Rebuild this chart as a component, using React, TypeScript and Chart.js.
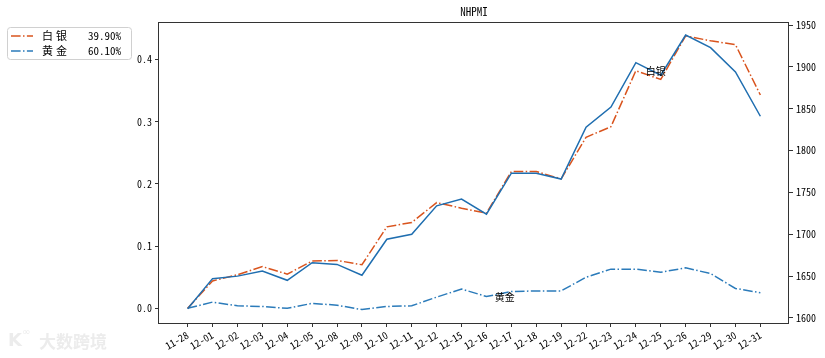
import React, { useEffect, useRef } from "react";
import { Chart, registerables } from "chart.js";

Chart.register(...registerables);

const labels = ["11-28","12-01","12-02","12-03","12-04","12-05","12-08","12-09","12-10","12-11","12-12","12-15","12-16","12-17","12-18","12-19","12-22","12-23","12-24","12-25","12-26","12-29","12-30","12-31"];
const silver = [0, 0.044, 0.054, 0.067, 0.055, 0.076, 0.077, 0.070, 0.131, 0.138, 0.170, 0.161, 0.153, 0.220, 0.220, 0.208, 0.275, 0.292, 0.382, 0.368, 0.438, 0.430, 0.424, 0.343];
const gold = [0, 0.010, 0.004, 0.003, 0.000, 0.008, 0.005, -0.002, 0.003, 0.004, 0.018, 0.031, 0.019, 0.027, 0.028, 0.028, 0.050, 0.063, 0.063, 0.058, 0.065, 0.056, 0.032, 0.025];
const nhpmi = [1611, 1647, 1650, 1656, 1645, 1666, 1664, 1651, 1694, 1700, 1734, 1742, 1724, 1773, 1773, 1766, 1828, 1852, 1905, 1890, 1938, 1923, 1894, 1841];

const leftTicks = [0, 0.1, 0.2, 0.3, 0.4];
const rightTicks = [1600, 1650, 1700, 1750, 1800, 1850, 1900, 1950];
const legendNames = ["白银", "黄金"];
const legendShares = ["39.90%", "60.10%"];
const annoTexts = ["白银", "黄金"];
const annoX = [18.8, 12.73];
const annoY = [0.381, 0.018];
const title = "NHPMI";

const ORANGE = "#d9541e";
const BLUE_SOLID = "#1f6eb0";
const BLUE_DASH = "#2b7bba";
const DASH = [9.6, 2.4, 1.5, 2.4];
const TICK_FONT = { family: "'Noto Sans Mono CJK SC', 'DejaVu Sans Mono', monospace", size: 10 };

const overlay = {
  id: "overlay",
  afterDatasetsDraw(chart: any) {
    const ctx = chart.ctx;
    const x = chart.scales.x;
    const y = chart.scales.y;
    ctx.save();
    ctx.fillStyle = "#000";
    ctx.font = "10px 'Noto Sans CJK SC'";
    ctx.textAlign = "center";
    ctx.textBaseline = "middle";
    annoTexts.forEach((t, i) => {
      ctx.fillText(t, x.getPixelForValue(annoX[i]), y.getPixelForValue(annoY[i]));
    });
    ctx.restore();
  },
  afterDraw(chart: any) {
    const ctx = chart.ctx;
    const a = chart.chartArea;
    ctx.save();
    // frame
    ctx.strokeStyle = "#333";
    ctx.lineWidth = 1;
    ctx.strokeRect(Math.round(a.left) - 0.5, Math.round(a.top) + 0.5, Math.round(a.right - a.left), Math.round(a.bottom - a.top));
    // title
    ctx.fillStyle = "#000";
    ctx.font = "11px 'Noto Sans Mono CJK SC', 'DejaVu Sans Mono'";
    ctx.textAlign = "center";
    ctx.textBaseline = "middle";
    ctx.fillText(title, (a.left + a.right) / 2, 12);
    // legend
    ctx.fillStyle = "#fff";
    ctx.strokeStyle = "#d0d0d0";
    ctx.beginPath();
    (ctx as any).roundRect(7.5, 27.5, 124, 32, 3);
    ctx.fill();
    ctx.stroke();
    const colors = [ORANGE, BLUE_DASH];
    legendNames.forEach((n, i) => {
      const ly = 36 + i * 15;
      ctx.strokeStyle = colors[i];
      ctx.lineWidth = 1.5;
      ctx.setLineDash(DASH);
      ctx.beginPath();
      ctx.moveTo(11, ly);
      ctx.lineTo(33, ly);
      ctx.stroke();
      ctx.setLineDash([]);
      ctx.fillStyle = "#000";
      ctx.font = "11px 'Noto Sans CJK SC'";
      ctx.textAlign = "left";
      (ctx as any).letterSpacing = "3px";
      ctx.fillText(n, 42, ly);
      (ctx as any).letterSpacing = "0px";
      ctx.font = "11px 'Noto Sans Mono CJK SC', 'DejaVu Sans Mono'";
      ctx.textAlign = "right";
      ctx.fillText(legendShares[i], 121, ly);
    });
    // watermark
    ctx.fillStyle = "#ececec";
    ctx.font = "bold 17px 'Noto Sans CJK SC'";
    ctx.textAlign = "left";
    ctx.fillText("大数跨境", 39, 342);
    ctx.font = "bold 18px 'DejaVu Sans'";
    ctx.fillText("K", 8, 341);
    ctx.font = "10px 'DejaVu Sans'";
    ctx.fillText("∞", 22, 332);
    ctx.restore();
  },
};

export default function App() {
  const ref = useRef<HTMLCanvasElement>(null);
  useEffect(() => {
    document.body.style.margin = "0";
    const chart = new Chart(ref.current as HTMLCanvasElement, {
      type: "line",
      data: {
        datasets: [
          {
            label: "NHPMI",
            data: nhpmi.map((v, i) => ({ x: i, y: v })),
            yAxisID: "y2",
            borderColor: BLUE_SOLID,
            borderWidth: 1.5,
            pointRadius: 0,
            tension: 0,
            fill: false,
          },
          {
            label: legendNames[0],
            data: silver.map((v, i) => ({ x: i, y: v })),
            yAxisID: "y",
            borderColor: ORANGE,
            borderWidth: 1.5,
            borderDash: DASH,
            pointRadius: 0,
            tension: 0,
            fill: false,
          },
          {
            label: legendNames[1],
            data: gold.map((v, i) => ({ x: i, y: v })),
            yAxisID: "y",
            borderColor: BLUE_DASH,
            borderWidth: 1.5,
            borderDash: DASH,
            pointRadius: 0,
            tension: 0,
            fill: false,
          },
        ],
      },
      options: {
        responsive: false,
        animation: false,
        layout: { padding: { top: 22, left: 0, right: 0, bottom: 0 } },
        plugins: { legend: { display: false }, tooltip: { enabled: false }, title: { display: false } },
        scales: {
          x: {
            type: "linear",
            min: -1.15,
            max: 24.15,
            afterBuildTicks: (s: any) => { s.ticks = labels.map((_, i) => ({ value: i })); },
            afterFit: (s: any) => { s.height = 35; },
            ticks: {
              autoSkip: false,
              minRotation: 30,
              maxRotation: 30,
              padding: 2,
              color: "#000",
              font: TICK_FONT,
              callback: (v: any) => labels[v] ?? "",
            },
            grid: { display: true, drawOnChartArea: false, drawTicks: true, tickLength: 4, color: "#333" },
            border: { display: false },
          },
          y: {
            type: "linear",
            position: "left",
            min: -0.0236,
            max: 0.4603,
            afterBuildTicks: (s: any) => { s.ticks = leftTicks.map((v) => ({ value: v })); },
            afterFit: (s: any) => { s.width = 159; },
            ticks: { padding: 3, color: "#000", font: TICK_FONT, callback: (v: any) => Number(v).toFixed(1) },
            grid: { display: true, drawOnChartArea: false, drawTicks: true, tickLength: 4, color: "#333" },
            border: { display: false },
          },
          y2: {
            type: "linear",
            position: "right",
            min: 1594,
            max: 1953.6,
            afterBuildTicks: (s: any) => { s.ticks = rightTicks.map((v) => ({ value: v })); },
            afterFit: (s: any) => { s.width = 36; },
            ticks: { padding: 3, color: "#000", font: TICK_FONT, callback: (v: any) => String(v) },
            grid: { display: true, drawOnChartArea: false, drawTicks: true, tickLength: 4, color: "#333" },
            border: { display: false },
          },
        },
      },
      plugins: [overlay],
    } as any);
    return () => chart.destroy();
  }, []);
  return <canvas ref={ref} width={825} height={358} style={{ display: "block" }} />;
}
